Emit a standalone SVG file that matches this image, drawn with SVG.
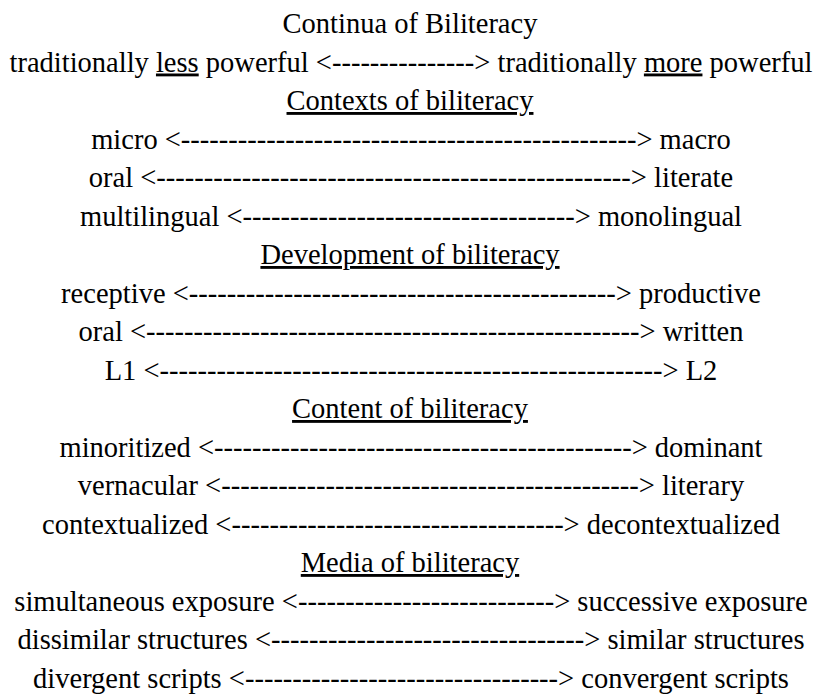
<svg xmlns="http://www.w3.org/2000/svg" width="818" height="698" viewBox="0 0 818 698" font-family="'Liberation Serif', Tinos, 'Times New Roman', Times, serif" font-size="28.5">
<style>
text{fill:#000;text-anchor:middle}
.u{text-decoration:underline}
</style>
<rect width="818" height="698" fill="#fff"/>
<g id="title">
<text x="410" y="33" font-family="Liberation Serif">Continua of Biliteracy</text>
<text x="411" y="71.5" font-family="Liberation Serif">traditionally <tspan class="u">less</tspan> powerful &lt;---------------&gt; traditionally <tspan class="u">more</tspan> powerful</text>
</g>
<g id="contexts">
<text x="410" y="110" class="u">Contexts of biliteracy</text>
<text x="411" y="148.5">micro &lt;------------------------------------------------&gt; macro</text>
<text x="411" y="187">oral &lt;--------------------------------------------------&gt; literate</text>
<text x="411" y="225.5">multilingual &lt;-----------------------------------&gt; monolingual</text>
</g>
<g id="development">
<text x="410" y="264" class="u">Development of biliteracy</text>
<text x="411" y="302.5">receptive &lt;---------------------------------------------&gt; productive</text>
<text x="411" y="341">oral &lt;----------------------------------------------------&gt; written</text>
<text x="411" y="379.5">L1 &lt;-----------------------------------------------------&gt; L2</text>
</g>
<g id="content">
<text x="410" y="418" class="u">Content of biliteracy</text>
<text x="411" y="456.5">minoritized &lt;--------------------------------------------&gt; dominant</text>
<text x="411" y="495">vernacular &lt;--------------------------------------------&gt; literary</text>
<text x="411" y="533.5">contextualized &lt;-----------------------------------&gt; decontextualized</text>
</g>
<g id="media">
<text x="410" y="572" class="u">Media of biliteracy</text>
<text x="411" y="610.5">simultaneous exposure &lt;---------------------------&gt; successive exposure</text>
<text x="411" y="649">dissimilar structures &lt;---------------------------------&gt; similar structures</text>
<text x="411" y="687.5">divergent scripts &lt;---------------------------------&gt; convergent scripts</text>
</g>
</svg>
